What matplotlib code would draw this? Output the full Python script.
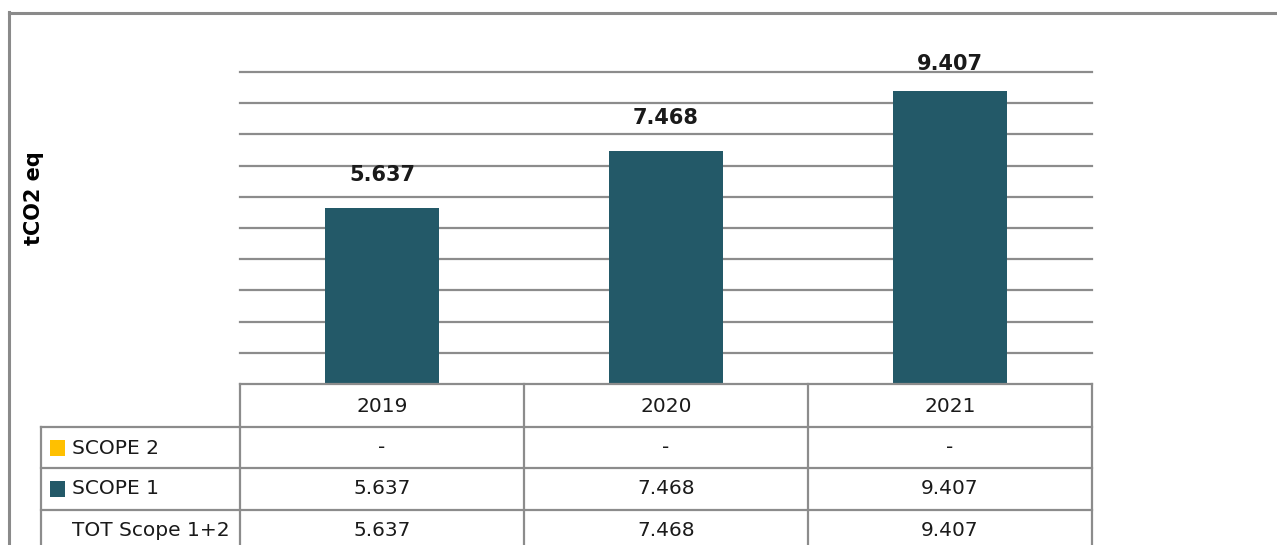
import matplotlib
matplotlib.use("Agg")
import matplotlib.pyplot as plt
from matplotlib.lines import Line2D
from matplotlib.patches import Rectangle

years = ["2019", "2020", "2021"]
scope1 = [5637, 7468, 9407]
scope2_labels = ["-", "-", "-"]
scope1_labels = ["5.637", "7.468", "9.407"]
total_labels = ["5.637", "7.468", "9.407"]
row_names = ["SCOPE 2", "SCOPE 1", "TOT Scope 1+2"]
ylabel = "tCO2 eq"

W, H = 1277, 545
BAR = "#235968"
YEL = "#FFC000"
GRID = "#8c8c8c"
TXT = "#1a1a1a"

fig = plt.figure(figsize=(W / 100, H / 100), dpi=100)
fig.patch.set_facecolor("white")

def fx(x):
    return x / W

def fy(y):
    return 1 - y / H

# main axes
ax = fig.add_axes([fx(240), fy(384), fx(1092) - fx(240), fy(72) - fy(384)])
ax.set_xlim(-0.5, 2.5)
ax.set_ylim(0, 10000)
for v in range(1000, 10001, 1000):
    ax.axhline(v, color=GRID, lw=1.6, zorder=1, clip_on=False)
xs = list(range(len(years)))
ax.bar(xs, scope1, width=0.4, color=BAR, zorder=2)
for x, v, lab in zip(xs, scope1, scope1_labels):
    ax.text(x, min(v + 1060, 10250), lab, ha="center", va="center",
            fontsize=15, fontweight="bold", family="DejaVu Sans", color=TXT,
            clip_on=False, zorder=3)
ax.set_xticks([])
ax.set_yticks([])
for s in ax.spines.values():
    s.set_visible(False)

def hline(y, x0, x1, lw=1.6, c=GRID):
    fig.add_artist(Line2D([fx(x0), fx(x1)], [fy(y), fy(y)], color=c, lw=lw,
                          transform=fig.transFigure))

def vline(x, y0, y1, lw=1.6, c=GRID):
    fig.add_artist(Line2D([fx(x), fx(x)], [fy(y0), fy(y1)], color=c, lw=lw,
                          transform=fig.transFigure))

# outer frame
hline(13, 9, W + 5, lw=2.2, c="#8a8a8a")
vline(9, 12, H + 5, lw=2.2, c="#8a8a8a")

# table
col_x = [240, 524, 808, 1092]
row_y = [384, 427, 468, 510]
hline(384, 240, 1092)
for y in row_y[1:]:
    hline(y, 41, 1092)
for x in col_x:
    vline(x, 384, H + 5)
vline(41, 427, H + 5)

fs = 14.5
centers_x = [(col_x[i] + col_x[i + 1]) / 2 for i in range(3)]
header_y = 406
row_cy = [448, 489, 530]
for cx, yr in zip(centers_x, years):
    fig.text(fx(cx), fy(header_y), yr, ha="center", va="center", fontsize=fs,
             color=TXT, family="DejaVu Sans")
for row, vals in zip(row_cy, [scope2_labels, scope1_labels, total_labels]):
    for cx, v in zip(centers_x, vals):
        fig.text(fx(cx), fy(row), v, ha="center", va="center", fontsize=fs,
                 color=TXT, family="DejaVu Sans")

for row, name in zip(row_cy, row_names):
    fig.text(fx(72), fy(row), name, ha="left", va="center", fontsize=fs,
             color=TXT, family="DejaVu Sans")

for row, col in zip(row_cy[:2], [YEL, BAR]):
    fig.add_artist(Rectangle((fx(50), fy(row + 7.5)), fx(15), fy(0) - fy(15),
                             transform=fig.transFigure, color=col, lw=0))

fig.text(fx(34), fy(198), ylabel, rotation=90, ha="center", va="center",
         fontsize=15, fontweight="bold", color="black", family="DejaVu Sans")

fig.savefig("out.png", dpi=100)
